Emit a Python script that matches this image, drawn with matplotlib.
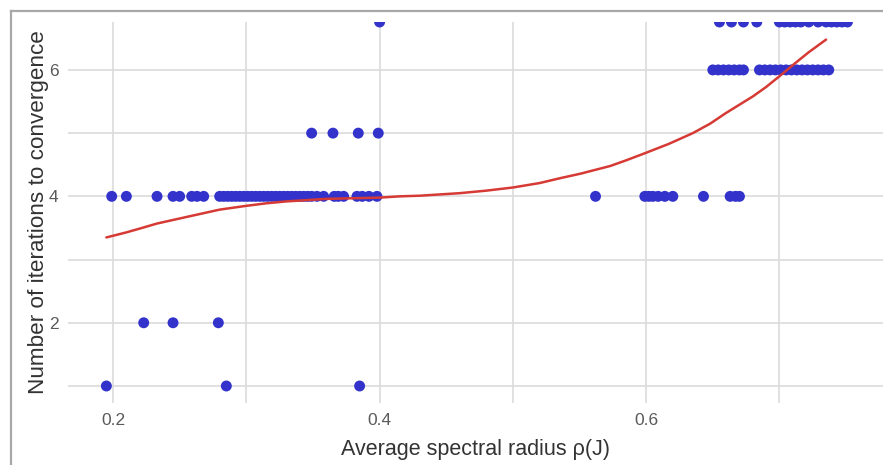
import numpy as np
import matplotlib
matplotlib.use("Agg")
import matplotlib.pyplot as plt
from matplotlib.lines import Line2D

# ---------------------------
# Data: spectral radius per run, grouped by iteration count
# ---------------------------
rho_iter1 = [0.195, 0.285, 0.385]
rho_iter2 = [0.223, 0.245, 0.279]
rho_iter4 = [0.199, 0.210, 0.233, 0.245, 0.250, 0.259, 0.263, 0.268,
             0.280, 0.283, 0.286, 0.289, 0.292, 0.295, 0.298, 0.301,
             0.304, 0.307, 0.310, 0.313, 0.316, 0.319, 0.322, 0.325,
             0.328, 0.331, 0.334, 0.337, 0.340, 0.343, 0.346, 0.349,
             0.353, 0.358, 0.366, 0.369, 0.373, 0.383, 0.387, 0.392,
             0.398,
             0.562, 0.599, 0.602, 0.605, 0.609, 0.614, 0.620, 0.643,
             0.663, 0.667, 0.670]
rho_iter5 = [0.349, 0.365, 0.384, 0.399]
rho_iter6 = [0.650, 0.654, 0.658, 0.662, 0.666, 0.670, 0.673,
             0.685, 0.689, 0.693, 0.697, 0.701, 0.705, 0.709, 0.713,
             0.717, 0.721, 0.725, 0.729, 0.733, 0.737]
rho_iter7 = [0.400, 0.655, 0.664, 0.673, 0.683, 0.700, 0.704, 0.708,
             0.712, 0.716, 0.722, 0.729, 0.735, 0.739, 0.743, 0.747,
             0.751]

# smoothed trend (loess-style fit)
trend_rho = [0.195, 0.210, 0.220, 0.233, 0.250, 0.265, 0.280, 0.300,
             0.315, 0.330, 0.345, 0.360, 0.380, 0.400, 0.415, 0.430,
             0.445, 0.460, 0.480, 0.500, 0.520, 0.536, 0.551, 0.573,
             0.585, 0.600, 0.617, 0.635, 0.648, 0.660, 0.670, 0.680,
             0.690, 0.700, 0.712, 0.722, 0.735]
trend_iter = [3.35, 3.43, 3.49, 3.57, 3.65, 3.72, 3.79, 3.85,
              3.89, 3.92, 3.94, 3.96, 3.97, 3.98, 4.00, 4.01,
              4.03, 4.05, 4.09, 4.14, 4.21, 4.29, 4.36, 4.48,
              4.57, 4.69, 4.83, 5.00, 5.15, 5.32, 5.45, 5.58,
              5.73, 5.90, 6.11, 6.28, 6.48]

groups = [(1, rho_iter1), (2, rho_iter2), (4, rho_iter4),
          (5, rho_iter5), (6, rho_iter6), (7, rho_iter7)]

XLIM = (0.1662, 0.7777)
YLIM = (0.731, 6.758)

x = np.concatenate([np.array(r) for _, r in groups])
y = np.concatenate([np.full(len(r), it, dtype=float) for it, r in groups])
# values above the y range are squished onto the panel edge
y_plot = np.minimum(y, YLIM[1])

# ---------------------------
# Figure
# ---------------------------
plt.rcParams['font.family'] = ['Liberation Sans', 'DejaVu Sans']
fig = plt.figure(figsize=(8.83, 4.65), dpi=100)
ax = fig.add_axes([68 / 883, 62 / 465, 1 - 68 / 883, 381 / 465])

grid_col = "#DCDCDC"
for gx in [0.2, 0.3, 0.4, 0.5, 0.6, 0.7]:
    ax.axvline(gx, color=grid_col, lw=1.2, zorder=0)
for gy in [1, 2, 3, 4, 5, 6]:
    ax.axhline(gy, color=grid_col, lw=1.2, zorder=0)

ax.scatter(x, y_plot, s=62, color="#3333CC", edgecolors="none", zorder=3)
ax.plot(trend_rho, trend_iter, color="#D63A34", lw=1.8, zorder=4,
        solid_joinstyle="round", solid_capstyle="round")

ax.set_xlim(*XLIM)
ax.set_ylim(*YLIM)
ax.set_xticks([0.2, 0.4, 0.6])
ax.set_xticklabels(["0.2", "0.4", "0.6"])
ax.set_yticks([2, 4, 6])
ax.set_yticklabels(["2", "4", "6"])
ax.tick_params(length=0, labelsize=12.5, colors="#5A5A5A", pad=7)
for s in ax.spines.values():
    s.set_visible(False)

ax.set_xlabel("Average spectral radius ρ(J)", fontsize=15.5, color="#333333", labelpad=8)
ax.set_ylabel("Number of iterations to convergence", fontsize=16.2, color="#333333", labelpad=0)

# outer frame (top and left edges)
fig.add_artist(Line2D([11 / 883, 1], [1 - 11 / 465, 1 - 11 / 465],
                      transform=fig.transFigure, color="#A8A8A8", lw=1.6))
fig.add_artist(Line2D([11 / 883, 11 / 883], [0, 1 - 11 / 465],
                      transform=fig.transFigure, color="#A8A8A8", lw=1.6))

fig.savefig("out.png", dpi=100)
